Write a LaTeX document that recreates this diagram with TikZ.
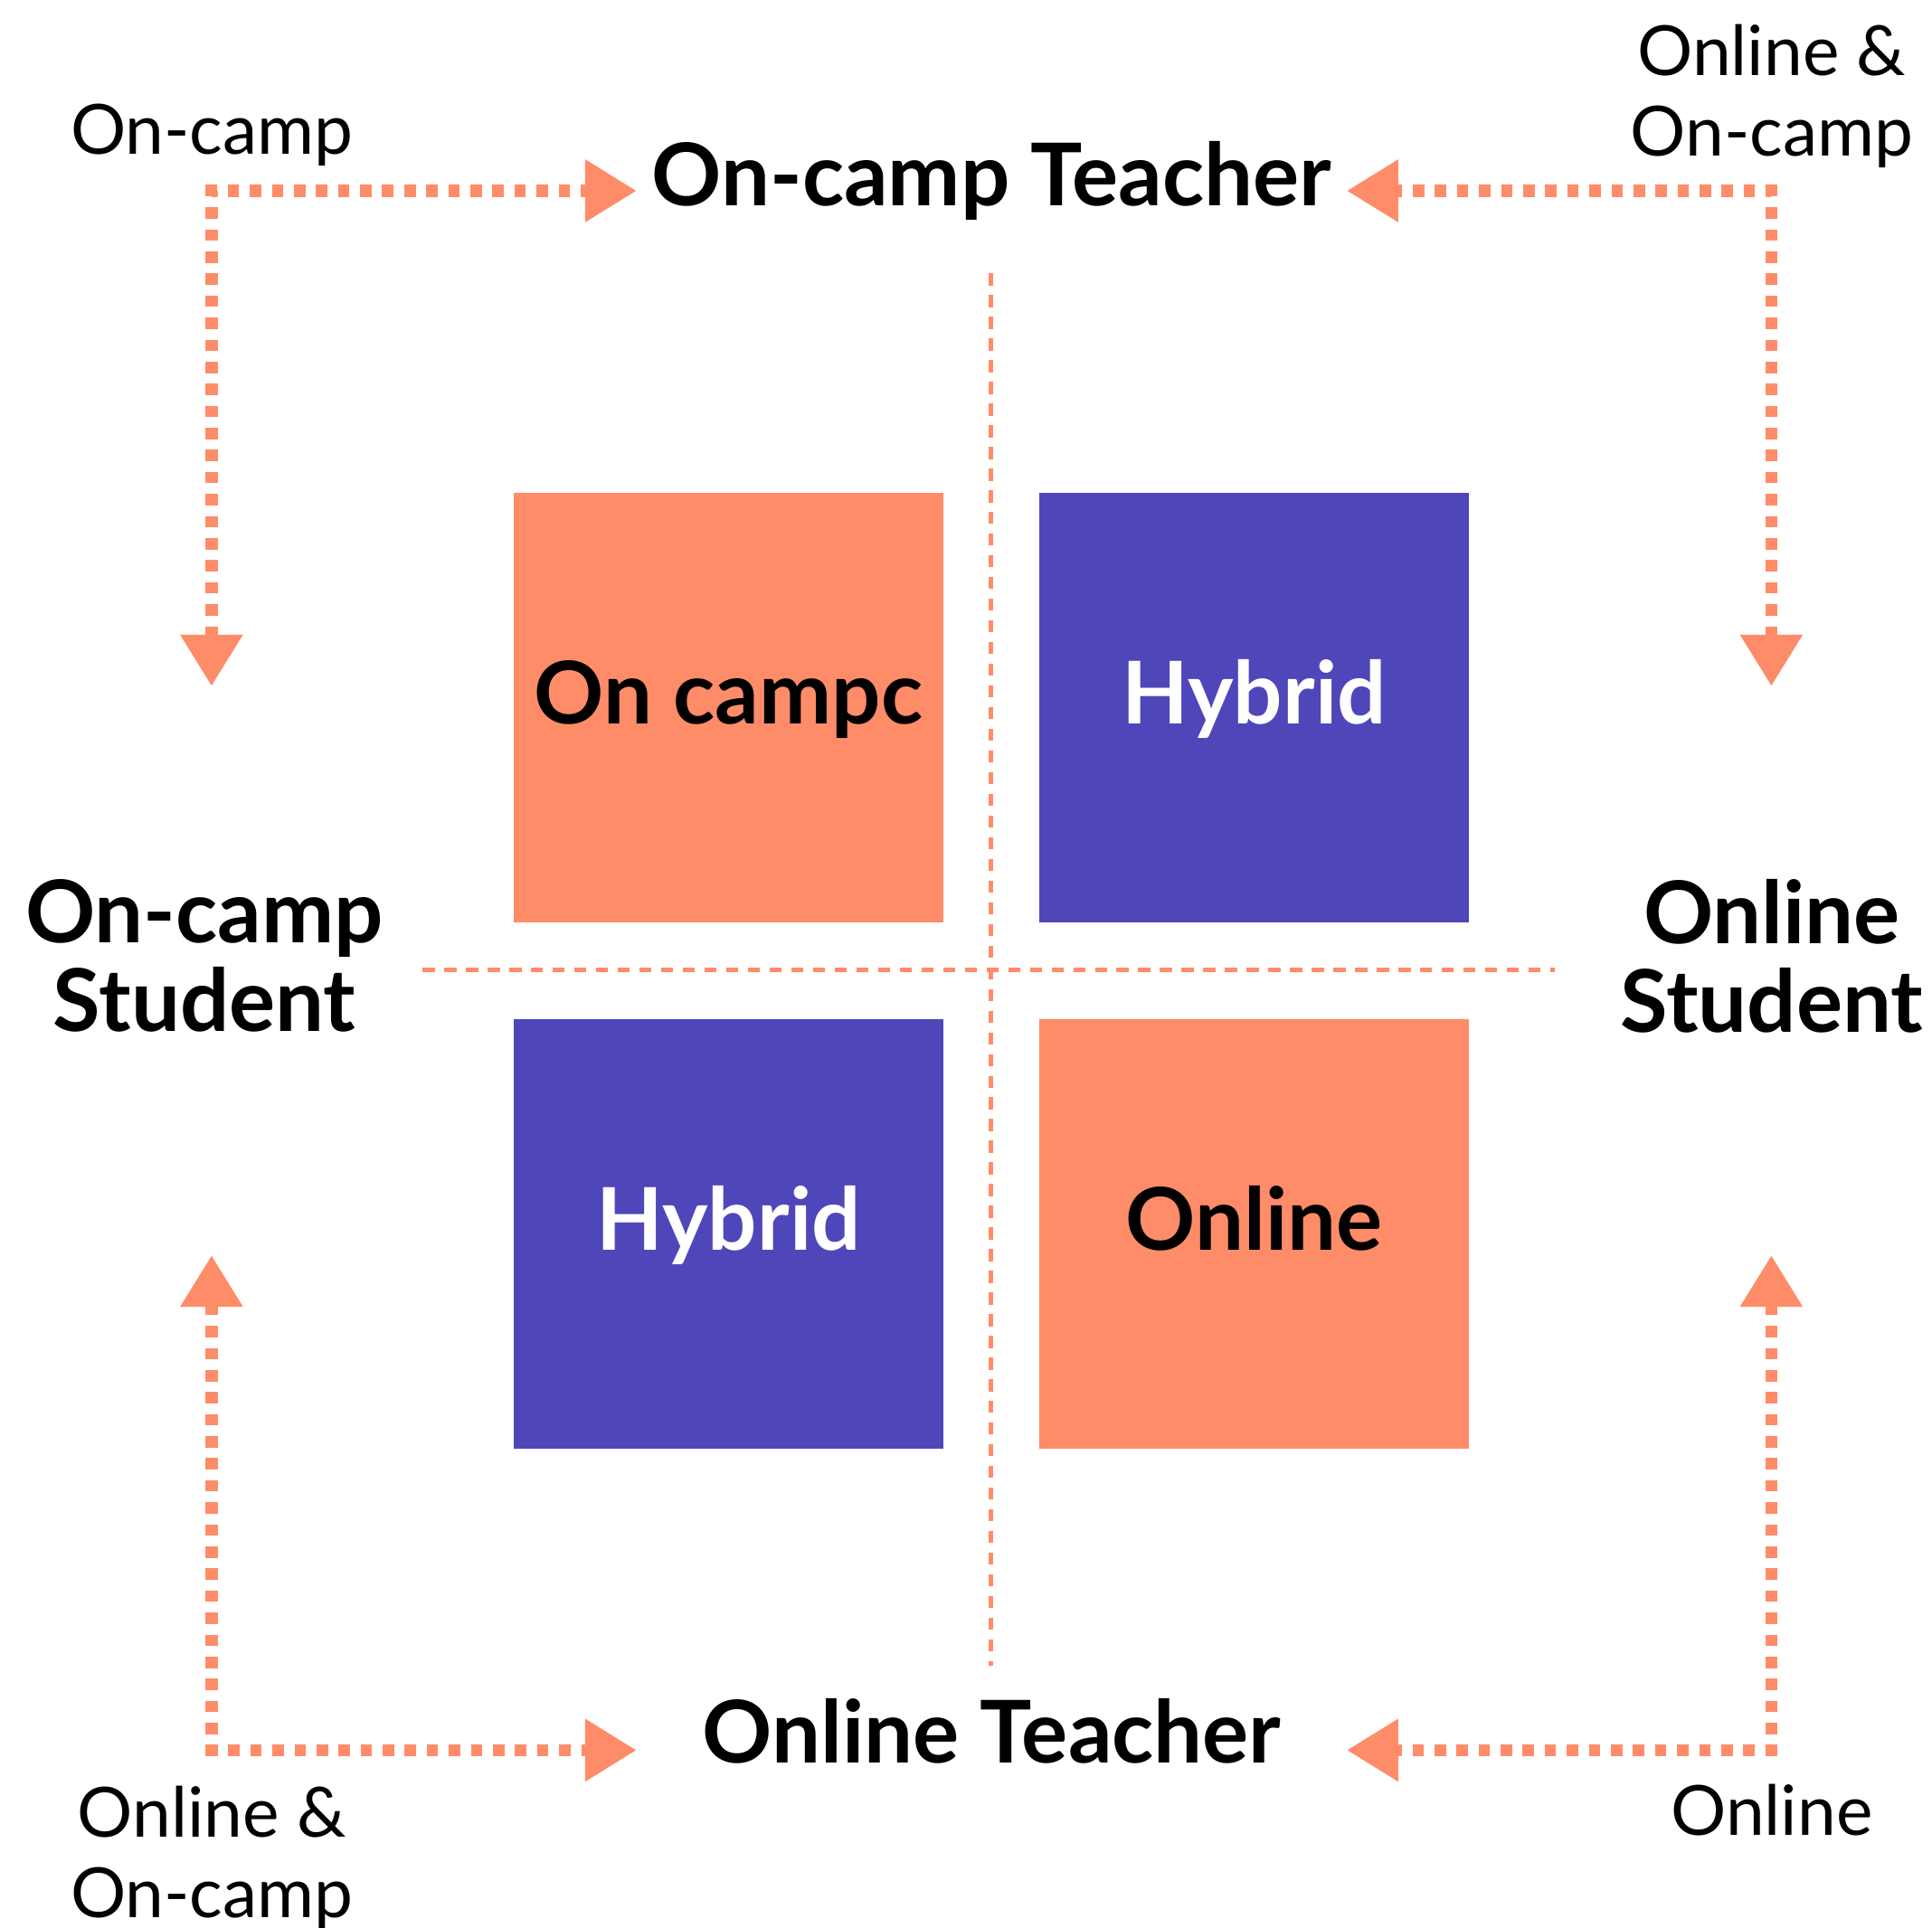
\documentclass[tikz,border=0pt]{standalone}
\usepackage{fontspec}
\setmainfont{Lato}
\usepackage{tikz}
\usetikzlibrary{arrows.meta,positioning}
\definecolor{salmon}{HTML}{FF8C69}
\definecolor{indigo}{HTML}{4F46BA}

\begin{document}
\begin{tikzpicture}[>={Triangle[width=4.82mm,length=4.18mm]},
    heading/.style={font=\fontsize{20}{20.5}\selectfont\bfseries, align=center, inner sep=0pt},
    sidenote/.style={font=\fontsize{16}{18.7}\selectfont, align=center, inner sep=0pt},
    quad/.style={rectangle, minimum size=3.485cm, inner sep=0pt, font=\fontsize{20}{20.5}\selectfont\bfseries, text height=14.4pt, text depth=6.9pt},
    flowline/.style={<->, salmon, line width=0.98mm, dash pattern=on 0.93mm off 0.86mm},
    divline/.style={salmon, line width=0.37mm, dash pattern=on 0.98mm off 0.78mm}]
    \useasboundingbox (0,0) rectangle (15.68,-15.65);

    \node[heading, anchor=base] (topTeacher) at (8.05,-1.67) {On-camp Teacher};
    \node[heading, anchor=base] (botTeacher) at (8.05,-14.31) {Online Teacher};
    \node[heading] (leftStudent) at (1.66,-7.76) {On-camp\\Student};
    \node[heading] (rightStudent) at (14.38,-7.76) {Online\\Student};

    \node[quad, fill=salmon] (onCampus) at (5.913,-5.743) {On campc};
    \node[quad, fill=indigo, text=white] (hybridTop) at (10.178,-5.743) {Hybrid};
    \node[quad, fill=indigo, text=white] (hybridBot) at (5.913,-10.015) {Hybrid};
    \node[quad, fill=salmon] (onlineBox) at (10.178,-10.015) {Online};

    % quadrant dividers
    \coordinate (vTop) at (8.044,-2.22);
    \coordinate (vBot) at (8.044,-13.52);
    \coordinate (hLeft) at (3.43,-7.876);
    \coordinate (hRight) at (12.62,-7.876);
    \draw[divline] (vTop) -- (vBot);
    \draw[divline] (hLeft) -- (hRight);

    % arrow ends
    \coordinate (tlDown) at (1.717,-5.57);
    \coordinate (tlRight) at (5.167,-1.549);
    \coordinate (trDown) at (14.376,-5.57);
    \coordinate (trLeft) at (10.93,-1.549);
    \coordinate (blUp) at (1.717,-10.19);
    \coordinate (blRight) at (5.167,-14.207);
    \coordinate (brUp) at (14.376,-10.19);
    \coordinate (brLeft) at (10.93,-14.207);

    \draw[flowline] (tlDown) |- (tlRight);
    \draw[flowline] (trDown) |- (trLeft);
    \draw[flowline] (blUp) |- (blRight);
    \draw[flowline] (brUp) |- (brLeft);

    \node[sidenote, anchor=base] (tlNote) at (1.72,-1.25) {On-camp};
    \node[sidenote] (trNote) at (14.38,-0.78) {Online \&\\On-camp};
    \node[sidenote] (blNote) at (1.72,-15.08) {Online \&\\On-camp};
    \node[sidenote, anchor=base] (brNote) at (14.38,-14.90) {Online};
\end{tikzpicture}
\end{document}
